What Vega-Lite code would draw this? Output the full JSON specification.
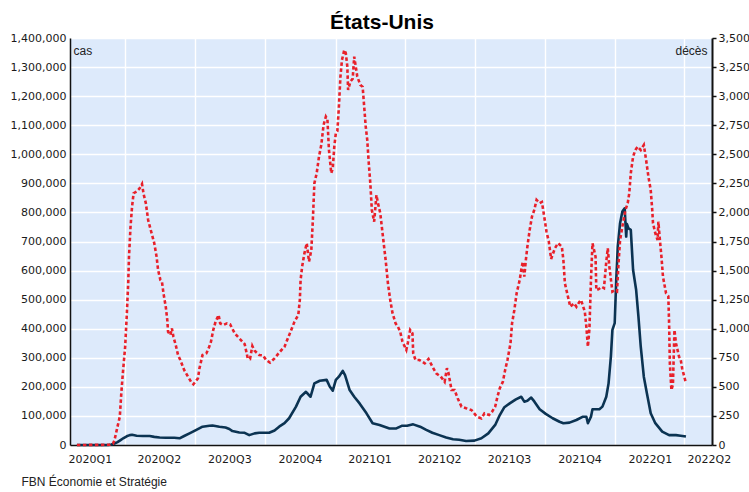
{
 "$schema": "https://vega.github.io/schema/vega-lite/v6.json",
 "width": 642,
 "height": 407,
 "autosize": {"type": "none"},
 "padding": {"left": 70, "top": 38, "right": 37, "bottom": 47},
 "background": "white",
 "title": {"text": "États-Unis", "font": "Liberation Sans", "fontSize": 21, "fontWeight": "bold", "color": "#000000", "anchor": "middle", "offset": 4, "baseline": "alphabetic", "dx": -9, "dy": 22},
 "config": {
  "view": {"fill": "#ddeafb", "stroke": null},
  "axis": {"labelFont": "DejaVu Sans", "labelFontSize": 11, "labelColor": "#1a1a1a", "domainColor": "#111111", "domainWidth": 1.5, "gridColor": "#ffffff", "gridWidth": 1.4, "gridOpacity": 1}
 },
 "datasets": {
  "cas": [
   {"date": "2020-01-29", "value": 0}, {"date": "2020-02-15", "value": 5}, {"date": "2020-03-01", "value": 10}, {"date": "2020-03-10", "value": 150},
   {"date": "2020-03-14", "value": 1500}, {"date": "2020-03-18", "value": 5000}, {"date": "2020-03-22", "value": 10000}, {"date": "2020-03-26", "value": 17000},
   {"date": "2020-03-30", "value": 24000}, {"date": "2020-04-03", "value": 30000}, {"date": "2020-04-07", "value": 34000}, {"date": "2020-04-10", "value": 35000},
   {"date": "2020-04-16", "value": 32000}, {"date": "2020-04-24", "value": 31000}, {"date": "2020-05-03", "value": 31000}, {"date": "2020-05-09", "value": 28000},
   {"date": "2020-05-16", "value": 26000}, {"date": "2020-05-24", "value": 25000}, {"date": "2020-06-04", "value": 25000}, {"date": "2020-06-11", "value": 23000},
   {"date": "2020-06-17", "value": 31000}, {"date": "2020-06-24", "value": 40000}, {"date": "2020-07-03", "value": 52000}, {"date": "2020-07-11", "value": 63000},
   {"date": "2020-07-20", "value": 66000}, {"date": "2020-07-24", "value": 67000}, {"date": "2020-08-02", "value": 63000}, {"date": "2020-08-10", "value": 60000},
   {"date": "2020-08-15", "value": 55000}, {"date": "2020-08-19", "value": 48000}, {"date": "2020-08-28", "value": 43000}, {"date": "2020-09-04", "value": 42000},
   {"date": "2020-09-10", "value": 34000}, {"date": "2020-09-17", "value": 40000}, {"date": "2020-09-23", "value": 42000}, {"date": "2020-10-06", "value": 42000},
   {"date": "2020-10-13", "value": 50000}, {"date": "2020-10-19", "value": 63000}, {"date": "2020-10-26", "value": 75000}, {"date": "2020-11-01", "value": 92000},
   {"date": "2020-11-10", "value": 132000}, {"date": "2020-11-16", "value": 166000}, {"date": "2020-11-23", "value": 183000}, {"date": "2020-11-29", "value": 166000},
   {"date": "2020-12-04", "value": 212000}, {"date": "2020-12-11", "value": 221000}, {"date": "2020-12-20", "value": 224000}, {"date": "2020-12-24", "value": 201000},
   {"date": "2020-12-28", "value": 187000}, {"date": "2021-01-01", "value": 224000}, {"date": "2021-01-05", "value": 235000}, {"date": "2021-01-10", "value": 255000},
   {"date": "2021-01-13", "value": 240000}, {"date": "2021-01-19", "value": 189000}, {"date": "2021-01-25", "value": 166000}, {"date": "2021-02-01", "value": 143000},
   {"date": "2021-02-10", "value": 109000}, {"date": "2021-02-18", "value": 75000}, {"date": "2021-02-27", "value": 69000}, {"date": "2021-03-12", "value": 57000},
   {"date": "2021-03-21", "value": 57000}, {"date": "2021-03-28", "value": 66000}, {"date": "2021-04-04", "value": 66000}, {"date": "2021-04-12", "value": 71000},
   {"date": "2021-04-21", "value": 63000}, {"date": "2021-04-29", "value": 52000}, {"date": "2021-05-07", "value": 42000}, {"date": "2021-05-16", "value": 34000},
   {"date": "2021-05-25", "value": 26000}, {"date": "2021-06-03", "value": 20000}, {"date": "2021-06-11", "value": 18000}, {"date": "2021-06-20", "value": 14000},
   {"date": "2021-07-01", "value": 15000}, {"date": "2021-07-10", "value": 23000}, {"date": "2021-07-19", "value": 40000}, {"date": "2021-07-28", "value": 69000},
   {"date": "2021-08-03", "value": 103000}, {"date": "2021-08-09", "value": 130000}, {"date": "2021-08-16", "value": 143000}, {"date": "2021-08-24", "value": 157000},
   {"date": "2021-08-31", "value": 166000}, {"date": "2021-09-04", "value": 149000}, {"date": "2021-09-08", "value": 152000}, {"date": "2021-09-13", "value": 163000},
   {"date": "2021-09-17", "value": 150000}, {"date": "2021-09-24", "value": 123000}, {"date": "2021-10-02", "value": 107000}, {"date": "2021-10-11", "value": 92000},
   {"date": "2021-10-20", "value": 80000}, {"date": "2021-10-25", "value": 75000}, {"date": "2021-11-02", "value": 77000}, {"date": "2021-11-11", "value": 86000},
   {"date": "2021-11-19", "value": 97000}, {"date": "2021-11-24", "value": 97000}, {"date": "2021-11-26", "value": 75000}, {"date": "2021-11-30", "value": 97000},
   {"date": "2021-12-02", "value": 123000}, {"date": "2021-12-11", "value": 123000}, {"date": "2021-12-15", "value": 132000}, {"date": "2021-12-20", "value": 166000},
   {"date": "2021-12-23", "value": 212000}, {"date": "2021-12-26", "value": 304000}, {"date": "2021-12-28", "value": 396000}, {"date": "2021-12-31", "value": 419000},
   {"date": "2022-01-02", "value": 568000}, {"date": "2022-01-04", "value": 682000}, {"date": "2022-01-07", "value": 763000}, {"date": "2022-01-10", "value": 803000},
   {"date": "2022-01-13", "value": 814000}, {"date": "2022-01-15", "value": 717000}, {"date": "2022-01-16", "value": 760000}, {"date": "2022-01-18", "value": 745000},
   {"date": "2022-01-21", "value": 740000}, {"date": "2022-01-24", "value": 602000}, {"date": "2022-01-28", "value": 533000}, {"date": "2022-01-31", "value": 441000},
   {"date": "2022-02-03", "value": 338000}, {"date": "2022-02-07", "value": 235000}, {"date": "2022-02-11", "value": 178000}, {"date": "2022-02-16", "value": 109000},
   {"date": "2022-02-22", "value": 75000}, {"date": "2022-03-03", "value": 46000}, {"date": "2022-03-12", "value": 34000}, {"date": "2022-03-21", "value": 34000},
   {"date": "2022-03-27", "value": 32000}, {"date": "2022-04-03", "value": 29000}
  ],
  "deces": [
   {"date": "2020-01-29", "value": 0}, {"date": "2020-03-12", "value": 2}, {"date": "2020-03-16", "value": 10}, {"date": "2020-03-18", "value": 40},
   {"date": "2020-03-22", "value": 157}, {"date": "2020-03-25", "value": 243}, {"date": "2020-03-27", "value": 447}, {"date": "2020-03-29", "value": 619},
   {"date": "2020-04-01", "value": 845}, {"date": "2020-04-03", "value": 1103}, {"date": "2020-04-05", "value": 1393}, {"date": "2020-04-06", "value": 1620},
   {"date": "2020-04-08", "value": 1877}, {"date": "2020-04-10", "value": 2050}, {"date": "2020-04-12", "value": 2165}, {"date": "2020-04-16", "value": 2180},
   {"date": "2020-04-20", "value": 2208}, {"date": "2020-04-23", "value": 2245}, {"date": "2020-04-25", "value": 2160}, {"date": "2020-04-28", "value": 2079},
   {"date": "2020-05-01", "value": 1935}, {"date": "2020-05-05", "value": 1834}, {"date": "2020-05-09", "value": 1735}, {"date": "2020-05-12", "value": 1620},
   {"date": "2020-05-14", "value": 1505}, {"date": "2020-05-17", "value": 1419}, {"date": "2020-05-19", "value": 1405}, {"date": "2020-05-21", "value": 1305},
   {"date": "2020-05-24", "value": 1189}, {"date": "2020-05-26", "value": 1075}, {"date": "2020-05-27", "value": 974}, {"date": "2020-05-30", "value": 946},
   {"date": "2020-06-01", "value": 1003}, {"date": "2020-06-03", "value": 931}, {"date": "2020-06-06", "value": 860}, {"date": "2020-06-09", "value": 774},
   {"date": "2020-06-12", "value": 731}, {"date": "2020-06-17", "value": 645}, {"date": "2020-06-22", "value": 588}, {"date": "2020-06-26", "value": 544},
   {"date": "2020-06-29", "value": 522}, {"date": "2020-07-05", "value": 573}, {"date": "2020-07-07", "value": 660}, {"date": "2020-07-11", "value": 774},
   {"date": "2020-07-16", "value": 788}, {"date": "2020-07-19", "value": 831}, {"date": "2020-07-22", "value": 888}, {"date": "2020-07-25", "value": 989},
   {"date": "2020-07-28", "value": 1060}, {"date": "2020-08-01", "value": 1118}, {"date": "2020-08-03", "value": 1046}, {"date": "2020-08-07", "value": 1032},
   {"date": "2020-08-12", "value": 1046}, {"date": "2020-08-16", "value": 1038}, {"date": "2020-08-22", "value": 960}, {"date": "2020-08-28", "value": 917},
   {"date": "2020-09-04", "value": 868}, {"date": "2020-09-08", "value": 745}, {"date": "2020-09-11", "value": 740}, {"date": "2020-09-14", "value": 851},
   {"date": "2020-09-17", "value": 810}, {"date": "2020-09-23", "value": 774}, {"date": "2020-09-28", "value": 770}, {"date": "2020-10-02", "value": 731},
   {"date": "2020-10-07", "value": 708}, {"date": "2020-10-13", "value": 745}, {"date": "2020-10-20", "value": 802}, {"date": "2020-10-26", "value": 845},
   {"date": "2020-11-02", "value": 960}, {"date": "2020-11-08", "value": 1060}, {"date": "2020-11-13", "value": 1118}, {"date": "2020-11-15", "value": 1247},
   {"date": "2020-11-16", "value": 1419}, {"date": "2020-11-18", "value": 1534}, {"date": "2020-11-21", "value": 1649}, {"date": "2020-11-24", "value": 1735},
   {"date": "2020-11-27", "value": 1577}, {"date": "2020-11-30", "value": 1677}, {"date": "2020-12-02", "value": 1935}, {"date": "2020-12-04", "value": 2251},
   {"date": "2020-12-07", "value": 2337}, {"date": "2020-12-10", "value": 2480}, {"date": "2020-12-13", "value": 2580}, {"date": "2020-12-16", "value": 2752},
   {"date": "2020-12-19", "value": 2824}, {"date": "2020-12-21", "value": 2800}, {"date": "2020-12-23", "value": 2537}, {"date": "2020-12-26", "value": 2337},
   {"date": "2020-12-28", "value": 2380}, {"date": "2020-12-30", "value": 2566}, {"date": "2021-01-01", "value": 2681}, {"date": "2021-01-03", "value": 2700},
   {"date": "2021-01-05", "value": 2910}, {"date": "2021-01-07", "value": 3168}, {"date": "2021-01-09", "value": 3311}, {"date": "2021-01-12", "value": 3397},
   {"date": "2021-01-14", "value": 3370}, {"date": "2021-01-16", "value": 3254}, {"date": "2021-01-17", "value": 3053}, {"date": "2021-01-20", "value": 3125},
   {"date": "2021-01-23", "value": 3150}, {"date": "2021-01-25", "value": 3340}, {"date": "2021-01-27", "value": 3254}, {"date": "2021-01-29", "value": 3168},
   {"date": "2021-02-02", "value": 3096}, {"date": "2021-02-05", "value": 3080}, {"date": "2021-02-07", "value": 2910}, {"date": "2021-02-09", "value": 2738},
   {"date": "2021-02-11", "value": 2623}, {"date": "2021-02-13", "value": 2423}, {"date": "2021-02-15", "value": 2251}, {"date": "2021-02-17", "value": 2021},
   {"date": "2021-02-20", "value": 1920}, {"date": "2021-02-23", "value": 2150}, {"date": "2021-02-25", "value": 2079}, {"date": "2021-02-28", "value": 1993},
   {"date": "2021-03-02", "value": 1877}, {"date": "2021-03-04", "value": 1763}, {"date": "2021-03-07", "value": 1591}, {"date": "2021-03-10", "value": 1390},
   {"date": "2021-03-13", "value": 1247}, {"date": "2021-03-16", "value": 1133}, {"date": "2021-03-20", "value": 1046}, {"date": "2021-03-23", "value": 1017},
   {"date": "2021-03-26", "value": 974}, {"date": "2021-03-29", "value": 888}, {"date": "2021-04-03", "value": 817}, {"date": "2021-04-05", "value": 880},
   {"date": "2021-04-08", "value": 989}, {"date": "2021-04-11", "value": 960}, {"date": "2021-04-12", "value": 788}, {"date": "2021-04-15", "value": 731},
   {"date": "2021-04-20", "value": 731}, {"date": "2021-04-27", "value": 702}, {"date": "2021-05-02", "value": 740}, {"date": "2021-05-07", "value": 674},
   {"date": "2021-05-12", "value": 616}, {"date": "2021-05-18", "value": 588}, {"date": "2021-05-23", "value": 544}, {"date": "2021-05-26", "value": 660},
   {"date": "2021-05-28", "value": 620}, {"date": "2021-06-01", "value": 473}, {"date": "2021-06-05", "value": 473}, {"date": "2021-06-09", "value": 402},
   {"date": "2021-06-14", "value": 330}, {"date": "2021-06-20", "value": 316}, {"date": "2021-06-27", "value": 301}, {"date": "2021-07-04", "value": 244},
   {"date": "2021-07-10", "value": 229}, {"date": "2021-07-14", "value": 272}, {"date": "2021-07-20", "value": 258}, {"date": "2021-07-24", "value": 287},
   {"date": "2021-07-28", "value": 330}, {"date": "2021-07-31", "value": 416}, {"date": "2021-08-03", "value": 488}, {"date": "2021-08-07", "value": 544},
   {"date": "2021-08-10", "value": 645}, {"date": "2021-08-13", "value": 731}, {"date": "2021-08-17", "value": 875}, {"date": "2021-08-19", "value": 1046},
   {"date": "2021-08-22", "value": 1161}, {"date": "2021-08-25", "value": 1305}, {"date": "2021-08-29", "value": 1419}, {"date": "2021-08-31", "value": 1505},
   {"date": "2021-09-02", "value": 1577}, {"date": "2021-09-04", "value": 1448}, {"date": "2021-09-06", "value": 1590}, {"date": "2021-09-08", "value": 1705},
   {"date": "2021-09-11", "value": 1849}, {"date": "2021-09-14", "value": 1964}, {"date": "2021-09-17", "value": 2021}, {"date": "2021-09-20", "value": 2107},
   {"date": "2021-09-24", "value": 2079}, {"date": "2021-09-27", "value": 2090}, {"date": "2021-09-30", "value": 1964}, {"date": "2021-10-03", "value": 1834},
   {"date": "2021-10-06", "value": 1749}, {"date": "2021-10-09", "value": 1600}, {"date": "2021-10-14", "value": 1692}, {"date": "2021-10-18", "value": 1735},
   {"date": "2021-10-23", "value": 1706}, {"date": "2021-10-25", "value": 1591}, {"date": "2021-10-27", "value": 1390}, {"date": "2021-10-31", "value": 1275},
   {"date": "2021-11-03", "value": 1189}, {"date": "2021-11-08", "value": 1218}, {"date": "2021-11-11", "value": 1189}, {"date": "2021-11-15", "value": 1232},
   {"date": "2021-11-17", "value": 1247}, {"date": "2021-11-22", "value": 1147}, {"date": "2021-11-24", "value": 1017}, {"date": "2021-11-26", "value": 845},
   {"date": "2021-11-28", "value": 1000}, {"date": "2021-11-30", "value": 1419}, {"date": "2021-12-02", "value": 1735}, {"date": "2021-12-06", "value": 1620},
   {"date": "2021-12-07", "value": 1333}, {"date": "2021-12-10", "value": 1340}, {"date": "2021-12-14", "value": 1361}, {"date": "2021-12-17", "value": 1350},
   {"date": "2021-12-20", "value": 1577}, {"date": "2021-12-22", "value": 1692}, {"date": "2021-12-24", "value": 1534}, {"date": "2021-12-28", "value": 1319},
   {"date": "2021-12-31", "value": 1330}, {"date": "2022-01-03", "value": 1320}, {"date": "2022-01-05", "value": 1562}, {"date": "2022-01-07", "value": 1763},
   {"date": "2022-01-10", "value": 1877}, {"date": "2022-01-14", "value": 2021}, {"date": "2022-01-17", "value": 2079}, {"date": "2022-01-19", "value": 2165},
   {"date": "2022-01-21", "value": 2337}, {"date": "2022-01-24", "value": 2480}, {"date": "2022-01-27", "value": 2537}, {"date": "2022-01-30", "value": 2566},
   {"date": "2022-02-03", "value": 2537}, {"date": "2022-02-07", "value": 2580}, {"date": "2022-02-10", "value": 2451}, {"date": "2022-02-13", "value": 2308},
   {"date": "2022-02-16", "value": 2193}, {"date": "2022-02-18", "value": 2021}, {"date": "2022-02-19", "value": 1907}, {"date": "2022-02-22", "value": 1821},
   {"date": "2022-02-25", "value": 1763}, {"date": "2022-02-26", "value": 1920}, {"date": "2022-02-28", "value": 1763}, {"date": "2022-03-02", "value": 1620},
   {"date": "2022-03-04", "value": 1448}, {"date": "2022-03-08", "value": 1305}, {"date": "2022-03-11", "value": 1280}, {"date": "2022-03-12", "value": 1046},
   {"date": "2022-03-13", "value": 702}, {"date": "2022-03-15", "value": 473}, {"date": "2022-03-17", "value": 520}, {"date": "2022-03-19", "value": 989},
   {"date": "2022-03-21", "value": 875}, {"date": "2022-03-25", "value": 760}, {"date": "2022-03-27", "value": 740}, {"date": "2022-03-29", "value": 660},
   {"date": "2022-04-03", "value": 531}
  ]
 },
 "layer": [
  {
   "data": {"name": "cas"},
   "mark": {"type": "line", "color": "#0b3352", "strokeWidth": 2.6, "strokeJoin": "round"},
   "encoding": {
    "x": {"field": "date", "type": "temporal",
     "scale": {"type": "utc", "domain": [{"year": 2020, "month": 1, "date": 20, "utc": true}, {"year": 2022, "month": 5, "date": 7, "utc": true}]},
     "axis": {"orient": "bottom", "grid": true, "labels": false, "ticks": false, "domain": true, "title": null,
      "values": [{"year": 2020, "month": 4, "date": 1, "utc": true}, {"year": 2020, "month": 7, "date": 1, "utc": true}, {"year": 2020, "month": 10, "date": 1, "utc": true},
       {"year": 2021, "month": 1, "date": 1, "utc": true}, {"year": 2021, "month": 4, "date": 1, "utc": true}, {"year": 2021, "month": 7, "date": 1, "utc": true},
       {"year": 2021, "month": 10, "date": 1, "utc": true}, {"year": 2022, "month": 1, "date": 1, "utc": true}, {"year": 2022, "month": 4, "date": 1, "utc": true}]}},
    "y": {"field": "value", "type": "quantitative",
     "scale": {"domain": [0, 1400000], "nice": false, "zero": true},
     "axis": {"orient": "left", "format": ",.0f", "grid": true, "ticks": false, "labelPadding": 4,
      "values": [0, 100000, 200000, 300000, 400000, 500000, 600000, 700000, 800000, 900000, 1000000, 1100000, 1200000, 1300000, 1400000],
      "title": "cas", "titleAngle": 0, "titleAlign": "left", "titleBaseline": "alphabetic", "titleX": 3, "titleY": 16,
      "titleFont": "Liberation Sans", "titleFontSize": 12, "titleFontWeight": "normal", "titleColor": "#222222"}}
   }
  },
  {
   "data": {"name": "deces"},
   "mark": {"type": "line", "color": "#e8202a", "strokeWidth": 2.6, "strokeDash": [3.5, 2.5]},
   "encoding": {
    "x": {"field": "date", "type": "temporal",
     "scale": {"type": "utc", "domain": [{"year": 2020, "month": 1, "date": 20, "utc": true}, {"year": 2022, "month": 5, "date": 7, "utc": true}]},
     "axis": {"orient": "bottom", "grid": false, "ticks": false, "domain": false, "format": "%YQ%q", "labelPadding": 8,
      "labelBound": false, "labelOverlap": false, "labelFlush": false,
      "values": [{"year": 2020, "month": 2, "date": 15, "utc": true}, {"year": 2020, "month": 5, "date": 15, "utc": true}, {"year": 2020, "month": 8, "date": 15, "utc": true},
       {"year": 2020, "month": 11, "date": 15, "utc": true}, {"year": 2021, "month": 2, "date": 14, "utc": true}, {"year": 2021, "month": 5, "date": 16, "utc": true},
       {"year": 2021, "month": 8, "date": 15, "utc": true}, {"year": 2021, "month": 11, "date": 15, "utc": true}, {"year": 2022, "month": 2, "date": 15, "utc": true},
       {"year": 2022, "month": 5, "date": 3, "utc": true}],
      "title": "FBN Économie et Stratégie", "titleAlign": "left", "titleBaseline": "alphabetic", "titleX": -49, "titleY": 40,
      "titleFont": "Liberation Sans", "titleFontSize": 12, "titleFontWeight": "normal", "titleColor": "#222222"}},
    "y": {"field": "value", "type": "quantitative",
     "scale": {"domain": [0, 3500], "nice": false, "zero": true},
     "axis": {"orient": "right", "format": ",.0f", "grid": false, "ticks": true, "tickSize": 4, "tickWidth": 1.5, "tickColor": "#111111", "labelPadding": 2, "domainWidth": 2,
      "values": [0, 250, 500, 750, 1000, 1250, 1500, 1750, 2000, 2250, 2500, 2750, 3000, 3250, 3500],
      "title": "décès", "titleAngle": 0, "titleAlign": "right", "titleBaseline": "alphabetic", "titleX": -5, "titleY": 16,
      "titleFont": "Liberation Sans", "titleFontSize": 12, "titleFontWeight": "normal", "titleColor": "#222222"}}
   }
  }
 ],
 "resolve": {"scale": {"y": "independent"}, "axis": {"x": "independent"}}
}
